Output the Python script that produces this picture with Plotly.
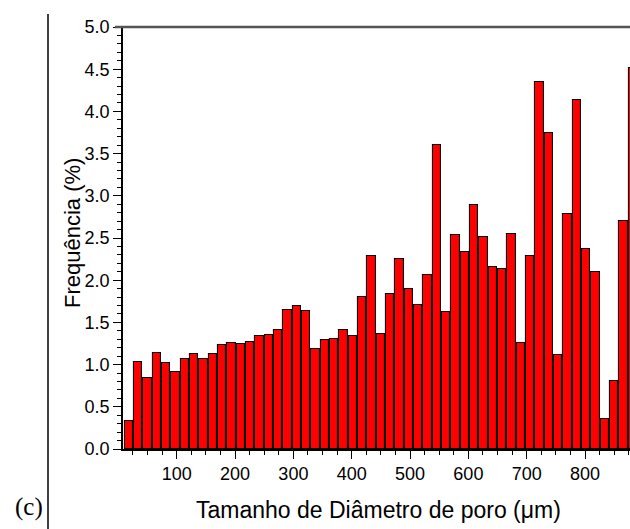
import plotly.graph_objects as go

# bin centres (µm)
diameters = [18, 34, 50, 66, 82, 98, 114, 130, 146, 162, 178, 194, 210, 226, 242,
             258, 274, 290, 306, 322, 338, 354, 370, 386, 402, 418, 434, 450, 466,
             482, 498, 514, 530, 546, 562, 578, 594, 610, 626, 642, 658, 674, 690,
             706, 722, 738, 754, 770, 786, 802, 818, 834, 850, 866, 882]
# frequency (%)
frequency = [0.335, 1.03, 0.84, 1.14, 1.02, 0.91, 1.07, 1.12, 1.07, 1.13, 1.235,
             1.255, 1.25, 1.27, 1.34, 1.35, 1.41, 1.645, 1.69, 1.63, 1.19, 1.29,
             1.30, 1.41, 1.34, 1.80, 2.285, 1.365, 1.835, 2.257, 1.90, 1.71, 2.06,
             3.60, 1.62, 2.53, 2.33, 2.89, 2.51, 2.16, 2.135, 2.545, 1.26, 2.29,
             4.35, 3.75, 1.11, 2.79, 4.14, 2.375, 2.10, 0.35, 0.805, 2.705, 4.51]
x_ticks = [100, 200, 300, 400, 500, 600, 700, 800]
y_ticks = [0.0, 0.5, 1.0, 1.5, 2.0, 2.5, 3.0, 3.5, 4.0, 4.5, 5.0]
x_title = "Tamanho de Diâmetro de poro (μm)"
y_title = "Frequência (%)"
panel_label = "(c)"

W, H = 630, 529
L, R, T, B = 123, 0, 27, 80
pw, ph = W - L - R, H - T - B


def px(x):
    return (x - L) / pw


def py(y):
    return (H - B - y) / ph


fig = go.Figure()
fig.add_trace(go.Bar(
    x=diameters, y=frequency, width=14.6,
    marker=dict(color="#ff0000", line=dict(color="#000000", width=1.1)),
    showlegend=False,
))

font = "Liberation Sans, Arial, sans-serif"
fig.update_layout(
    width=W, height=H,
    margin=dict(l=L, r=R, t=T, b=B, pad=0),
    paper_bgcolor="white", plot_bgcolor="white",
    font=dict(family=font, size=18, color="#000000"),
    bargap=0,
    xaxis=dict(
        range=[7.9, 877.1], tickmode="array", tickvals=x_ticks,
        ticktext=[str(v) for v in x_ticks],
        ticks="outside", ticklen=8, tickwidth=1.2, tickcolor="#000",
        minor=dict(dtick=25, tick0=0, ticks="outside", ticklen=4, tickwidth=1.2, tickcolor="#000"),
        showline=True, linecolor="#000", linewidth=1.5,
        showgrid=False, zeroline=False,
        tickfont=dict(size=18),
    ),
    yaxis=dict(
        range=[0, 5], tickmode="array", tickvals=y_ticks,
        ticktext=[f"{v:.1f}" for v in y_ticks],
        ticks="outside", ticklen=8, tickwidth=1.2, tickcolor="#000",
        minor=dict(dtick=0.1, tick0=0, ticks="outside", ticklen=4, tickwidth=1.2, tickcolor="#000"),
        showline=True, linecolor="#000", linewidth=1.5,
        showgrid=False, zeroline=False,
        tickfont=dict(size=18),
    ),
    shapes=[
        dict(type="line", xref="paper", yref="paper", x0=px(115), x1=1.0, y0=1.0, y1=1.0,
             line=dict(color="#555555", width=2.5)),
        dict(type="line", xref="paper", yref="paper", x0=px(48), x1=px(48), y0=py(14), y1=py(529),
             line=dict(color="#000000", width=1.5)),
    ],
    annotations=[
        dict(text=panel_label, xref="paper", yref="paper", x=px(29), y=py(507),
             xanchor="center", yanchor="middle", showarrow=False,
             font=dict(family="Liberation Serif, Times New Roman, serif", size=25, color="#000")),
        dict(text=x_title, xref="paper", yref="paper", x=px(378), y=py(510),
             xanchor="center", yanchor="middle", showarrow=False,
             font=dict(size=23, color="#000")),
        dict(text=y_title, xref="paper", yref="paper", x=px(72), y=py(233),
             xanchor="center", yanchor="middle", showarrow=False, textangle=-90,
             font=dict(size=22, color="#000")),
    ],
)

fig.write_html("out.html")
